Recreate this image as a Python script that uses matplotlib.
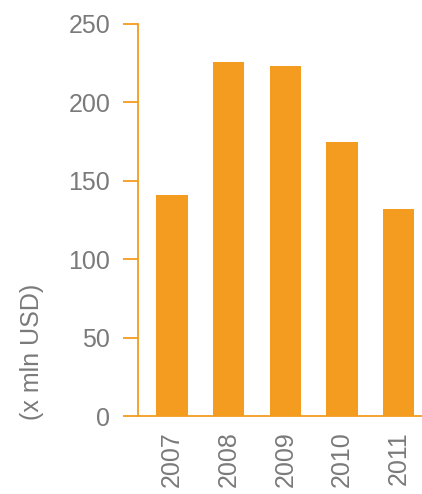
import matplotlib
matplotlib.use('Agg')
import matplotlib.pyplot as plt
import numpy as np

years = ['2007', '2008', '2009', '2010', '2011']
values = [141, 226, 223, 175, 132]

orange = '#F39C1F'
grey = '#7a7a7a'

plt.rcParams['font.family'] = ['Liberation Sans', 'DejaVu Sans']

fig = plt.figure(figsize=(4.22, 4.94), dpi=100)
ax = fig.add_axes([138/422, 1 - 416/494, 284/422, 392/494])

x = np.arange(len(years))
ax.bar(x, values, width=0.55, color=orange)

ax.set_xlim(-0.6, 4.41)
ax.set_ylim(0, 250)
ax.set_yticks([0, 50, 100, 150, 200, 250])
ax.set_xticks(x)
ax.set_xticklabels(years, rotation=90)

for s in ['top', 'right']:
    ax.spines[s].set_visible(False)
for s in ['left', 'bottom']:
    ax.spines[s].set_color(orange)
    ax.spines[s].set_linewidth(1.3)

ax.tick_params(axis='y', colors=orange, labelcolor=grey, labelsize=18,
               length=11, width=1.3, pad=9)
ax.tick_params(axis='x', length=0, labelcolor=grey, labelsize=18, pad=11)

fig.text(32/422, 1 - 352/494, '(x mln USD)', rotation=90, ha='center',
         va='center', color=grey, fontsize=18)

fig.savefig('out.png', dpi=100)
